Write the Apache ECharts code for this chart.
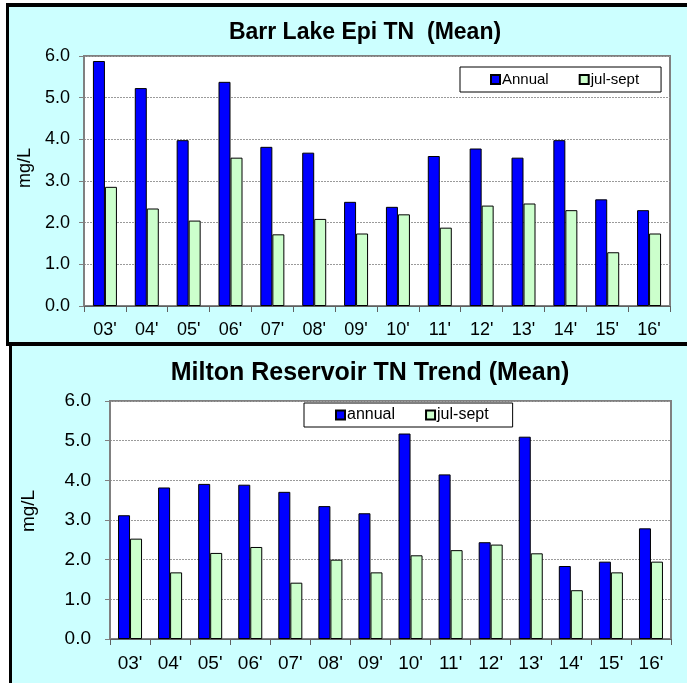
<!DOCTYPE html>
<html>
<head>
<meta charset="utf-8">
<script src="https://cdn.jsdelivr.net/npm/echarts@6/dist/echarts.min.js"></script>
<style>
  html, body { margin:0; padding:0; background:#ffffff; overflow:hidden; }
  #p1 { position:absolute; left:6px; top:3px; width:700px; height:335px;
        background:#ccffff; border-left:3px solid #000; border-top:4px solid #000; border-bottom:4px solid #000; }
  #p2 { position:absolute; left:9px; top:346px; width:700px; height:400px;
        background:#ccffff; border-left:3px solid #000; }
  #chart { position:absolute; left:0; top:0; width:687px; height:683px; }
</style>
</head>
<body>
<div id="p1"></div>
<div id="p2"></div>
<div id="chart"></div>
<script>
const categories = ["03'","04'","05'","06'","07'","08'","09'","10'","11'","12'","13'","14'","15'","16'"];
const barrAnnual   = [5.88, 5.23, 3.98, 5.38, 3.82, 3.68, 2.50, 2.38, 3.60, 3.78, 3.56, 3.98, 2.56, 2.30];
const barrJulSept  = [2.86, 2.34, 2.05, 3.56, 1.72, 2.09, 1.74, 2.20, 1.88, 2.41, 2.46, 2.30, 1.29, 1.74];
const miltonAnnual  = [3.12, 3.82, 3.91, 3.89, 3.71, 3.35, 3.17, 5.18, 4.15, 2.44, 5.10, 1.84, 1.95, 2.79];
const miltonJulSept = [2.53, 1.68, 2.17, 2.32, 1.42, 2.00, 1.68, 2.11, 2.24, 2.38, 2.16, 1.23, 1.68, 1.95];
const topTitle = 'Barr Lake Epi TN  (Mean)';
const bottomTitle = 'Milton Reservoir TN Trend (Mean)';
const yName = 'mg/L';
const yMin = 0, yMax = 6, yStep = 1;

const FONT = '"Liberation Sans", Arial, sans-serif';
const BLUE = '#0000ff', GREEN = '#ccffcc';

function yAxis(gridIndex, fontSize, margin) {
  return {
    type: 'value', gridIndex, min: yMin, max: yMax, interval: yStep,
    axisLine: { show: true, lineStyle: { color: '#808080', width: 1 } },
    axisTick: { show: true, length: 5, lineStyle: { color: '#808080' } },
    axisLabel: { color: '#000', fontFamily: FONT, fontSize, margin, formatter: v => v.toFixed(1) },
    splitLine: { show: true, lineStyle: { color: '#9a9a9a', type: [2, 1], width: 1 } }
  };
}
function xAxis(gridIndex, fontSize, margin) {
  return {
    type: 'category', gridIndex, data: categories, boundaryGap: true,
    axisLine: { show: true, lineStyle: { color: '#606060', width: 1 } },
    axisTick: { show: true, length: 6, lineStyle: { color: '#606060' } },
    axisLabel: { color: '#000', fontFamily: FONT, fontSize, margin, interval: 0 }
  };
}
function bar(name, data, idx, color) {
  return {
    type: 'bar', name, data, xAxisIndex: idx, yAxisIndex: idx,
    barWidth: 12, barGap: '0%',
    itemStyle: { color, borderColor: '#000', borderWidth: 1 }
  };
}

const chart = echarts.init(document.getElementById('chart'), null, { renderer: 'canvas' });
chart.setOption({
  backgroundColor: 'transparent',
  animation: false,
  title: [
    { text: topTitle, left: 360, top: 16, textAlign: 'center',
      textStyle: { fontFamily: FONT, fontWeight: 'bold', fontSize: 23, color: '#000' } },
    { text: bottomTitle, left: 365, top: 356, textAlign: 'center',
      textStyle: { fontFamily: FONT, fontWeight: 'bold', fontSize: 25, color: '#000' } }
  ],
  legend: [
    { data: ['Annual', 'jul-sept'], left: 460, top: 67, orient: 'horizontal',
      padding: [5, 22, 5, 30], itemGap: 30, itemWidth: 9, itemHeight: 9, icon: 'rect',
      backgroundColor: '#fff', borderColor: '#000', borderWidth: 1,
      textStyle: { fontFamily: FONT, fontSize: 15, color: '#000', padding: [0, 0, 0, -3] } },
    { data: ['annual', 'jul-sept'], left: 304, top: 403, orient: 'horizontal',
      padding: [4, 24, 4, 31], itemGap: 30, itemWidth: 9, itemHeight: 9, icon: 'rect',
      backgroundColor: '#fff', borderColor: '#000', borderWidth: 1,
      textStyle: { fontFamily: FONT, fontSize: 16, color: '#000', padding: [0, 0, 0, -3] } }
  ],
  grid: [
    { left: 84, right: 17, top: 56, height: 250, show: true, backgroundColor: '#fff',
      borderColor: '#808080', borderWidth: 2 },
    { left: 110, right: 16, top: 401, height: 238, show: true, backgroundColor: '#fff',
      borderColor: '#808080', borderWidth: 2 }
  ],
  xAxis: [ xAxis(0, 18, 15), xAxis(1, 19, 15) ],
  yAxis: [ yAxis(0, 18, 14), yAxis(1, 19, 19) ],
  series: [
    bar('Annual', barrAnnual, 0, BLUE),
    bar('jul-sept', barrJulSept, 0, GREEN),
    bar('annual', miltonAnnual, 1, BLUE),
    bar('jul-sept', miltonJulSept, 1, GREEN)
  ],
  graphic: [
    { type: 'text', x: 25, y: 168, rotation: Math.PI / 2,
      style: { text: yName, fontFamily: FONT, fontSize: 18, fill: '#000', align: 'center', verticalAlign: 'middle' } },
    { type: 'text', x: 29, y: 511, rotation: Math.PI / 2,
      style: { text: yName, fontFamily: FONT, fontSize: 19, fill: '#000', align: 'center', verticalAlign: 'middle' } }
  ]
});
</script>
</body>
</html>
